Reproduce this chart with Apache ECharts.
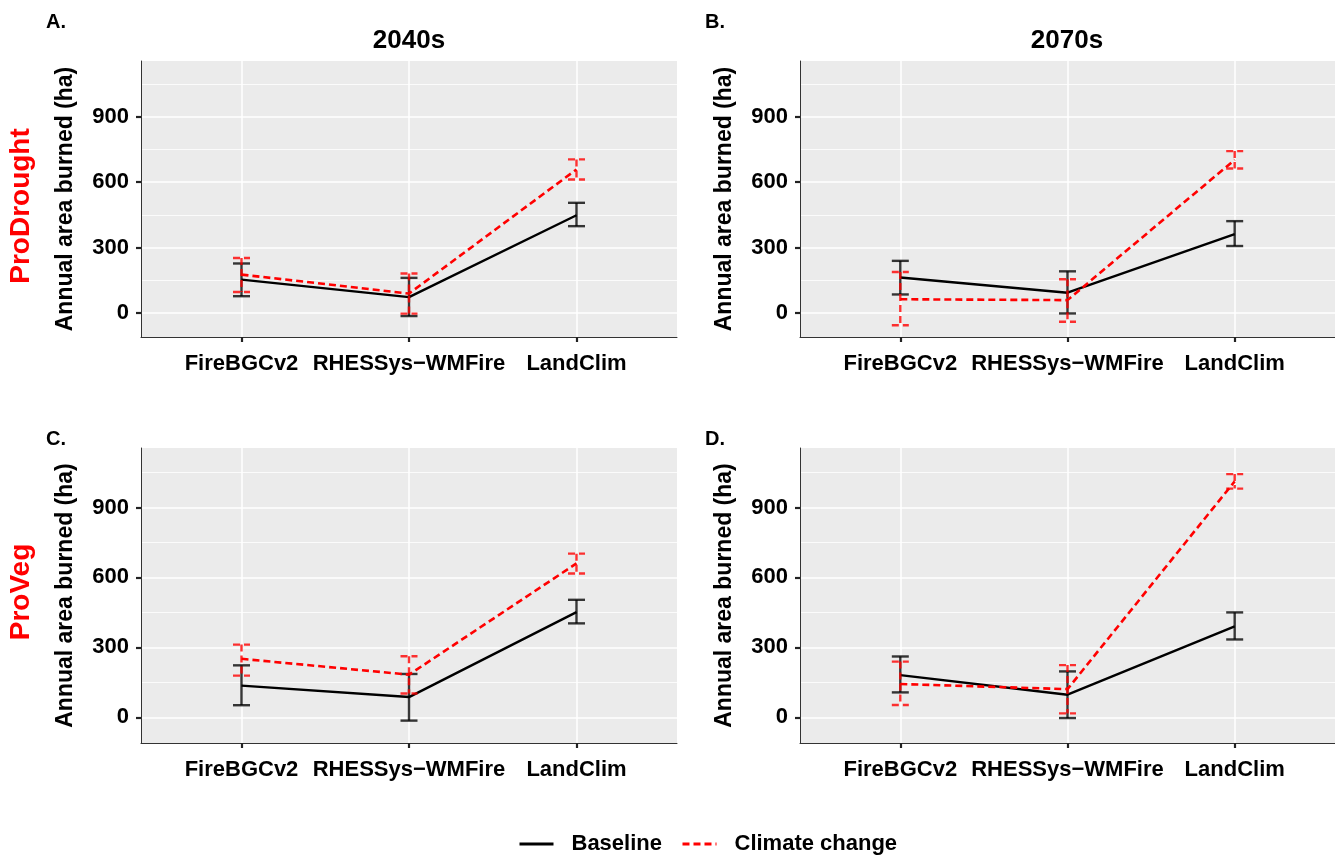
<!DOCTYPE html>
<html lang="en">
<head>
    <meta charset="UTF-8">
    <title>Annual area burned</title>
    <script src="https://cdn.jsdelivr.net/npm/echarts@6/dist/echarts.min.js"></script>
    <style>
        html, body { margin: 0; padding: 0; background: #fff; }
        #main { width: 1335px; height: 857px; }
    </style>
</head>
<body>
    <div id="main"></div>
    <script>
        // models on the x axis
        var categories = ['FireBGCv2', 'RHESSys\u2212WMFire', 'LandClim'];
        var yMajor = [0, 300, 600, 900];
        var yMinor = [150, 450, 750, 1050];

        // A. ProDrought 2040s
        var baseA = [153, 73, 448], baseA_lo = [77, -14, 398], baseA_hi = [227, 161, 505];
        var climA = [176, 89, 658], climA_lo = [96, -3, 612], climA_hi = [252, 181, 704];
        // B. ProDrought 2070s
        var baseB = [163, 93, 361], baseB_lo = [85, -2, 307], baseB_hi = [239, 191, 421];
        var climB = [63, 59, 702], climB_lo = [-56, -40, 662], climB_hi = [188, 155, 742];
        // C. ProVeg 2040s
        var baseC = [136, 87, 451], baseC_lo = [52, -14, 403], baseC_hi = [223, 186, 504];
        var climC = [251, 183, 660], climC_lo = [179, 102, 617], climC_hi = [312, 262, 702];
        // D. ProVeg 2070s
        var baseD = [181, 97, 390], baseD_lo = [107, -3, 334], baseD_hi = [261, 197, 450];
        var climD = [143, 121, 1012], climD_lo = [53, 17, 981], climD_hi = [239, 224, 1043];

        var panels = [
            { base: [baseA, baseA_lo, baseA_hi], clim: [climA, climA_lo, climA_hi] },
            { base: [baseB, baseB_lo, baseB_hi], clim: [climB, climB_lo, climB_hi] },
            { base: [baseC, baseC_lo, baseC_hi], clim: [climC, climC_lo, climC_hi] },
            { base: [baseD, baseD_lo, baseD_hi], clim: [climD, climD_lo, climD_hi] }
        ];

        var FONT = '"Liberation Sans", Arial, Helvetica, sans-serif';
        var grids = [
            { left: 141, top: 61, width: 536, height: 276 },
            { left: 800, top: 61, width: 535, height: 276 },
            { left: 141, top: 448, width: 536, height: 295 },
            { left: 800, top: 448, width: 535, height: 295 }
        ];

        function errorBar(color, dash) {
            return function (params, api) {
                var x = api.value(0);
                var top = api.coord([x, api.value(2)]);
                var bot = api.coord([x, api.value(1)]);
                var hw = 8.5;
                var style = { stroke: color, lineWidth: 2.4, lineDash: dash, fill: null };
                return {
                    type: 'group',
                    children: [
                        { type: 'line', shape: { x1: top[0], y1: top[1], x2: bot[0], y2: bot[1] }, style: style },
                        { type: 'line', shape: { x1: top[0] - hw, y1: top[1], x2: top[0] + hw, y2: top[1] }, style: style },
                        { type: 'line', shape: { x1: bot[0] - hw, y1: bot[1], x2: bot[0] + hw, y2: bot[1] }, style: style }
                    ]
                };
            };
        }

        var xAxes = [], yAxes = [], series = [];
        grids.forEach(function (g, i) {
            g.show = true;
            g.backgroundColor = '#EBEBEB';
            g.borderWidth = 0;
            xAxes.push({
                gridIndex: i, type: 'value', min: 0.4, max: 3.6,
                axisLine: { show: true, onZero: false, lineStyle: { color: '#333', width: 1 } },
                axisTick: { show: true, length: 5, customValues: [1, 2, 3], lineStyle: { color: '#222', width: 2.2 } },
                axisLabel: {
                    customValues: [1, 2, 3], margin: 16,
                    formatter: function (v) { return categories[Math.round(v) - 1]; },
                    fontSize: 22, fontWeight: 'bold', color: '#000', fontFamily: FONT
                },
                splitLine: { show: true, lineStyle: { color: '#fff', width: 1.5 } }
            });
            yAxes.push({
                gridIndex: i, type: 'value', min: -110, max: 1155,
                name: 'Annual area burned (ha)', nameLocation: 'middle', nameGap: 64,
                nameTextStyle: { fontSize: 23, fontWeight: 'bold', color: '#000', fontFamily: FONT },
                axisLine: { show: true, onZero: false, lineStyle: { color: '#333', width: 1 } },
                axisTick: { show: true, length: 5, customValues: yMajor, lineStyle: { color: '#222', width: 2.2 } },
                axisLabel: { customValues: yMajor, margin: 12, fontSize: 22, fontWeight: 'bold', color: '#000', fontFamily: FONT },
                splitLine: { show: true, lineStyle: { color: '#fff', width: 1.5 } }
            });
            // minor grid lines
            yAxes.push({
                gridIndex: i, type: 'value', min: -110, max: 1155, position: 'left',
                axisLine: { show: false },
                axisTick: { show: false, customValues: yMinor },
                axisLabel: { show: false },
                splitLine: { show: true, lineStyle: { color: '#fff', width: 0.8 } }
            });

            var p = panels[i];
            function pts(arr) { return arr[0].map(function (v, k) { return [k + 1, v]; }); }
            function bars(arr) { return arr[1].map(function (v, k) { return [k + 1, v, arr[2][k]]; }); }

            series.push({
                name: 'Baseline', type: 'line', xAxisIndex: i, yAxisIndex: i * 2,
                data: pts(p.base), symbol: 'none', z: 3,
                lineStyle: { color: '#000', width: 2.4, type: 'solid' }, itemStyle: { color: '#000' }
            });
            series.push({
                name: 'Baseline err', type: 'custom', xAxisIndex: i, yAxisIndex: i * 2,
                data: bars(p.base), renderItem: errorBar('rgba(0,0,0,0.78)', null),
                encode: { x: 0, y: [1, 2] }, z: 3, clip: false
            });
            series.push({
                name: 'Climate change', type: 'line', xAxisIndex: i, yAxisIndex: i * 2,
                data: pts(p.clim), symbol: 'none', z: 4,
                lineStyle: { color: '#FF0000', width: 2.6, type: [7, 4] }, itemStyle: { color: '#FF0000' }
            });
            series.push({
                name: 'Climate err', type: 'custom', xAxisIndex: i, yAxisIndex: i * 2,
                data: bars(p.clim), renderItem: errorBar('rgba(255,0,0,0.8)', [7, 4]),
                encode: { x: 0, y: [1, 2] }, z: 4, clip: false
            });
        });

        function txt(s, x, y, size, opts) {
            opts = opts || {};
            return {
                type: 'text', x: x, y: y, rotation: opts.rotation || 0,
                style: {
                    text: s, fill: opts.color || '#000', fontSize: size, fontWeight: 'bold', fontFamily: FONT,
                    align: opts.align || 'left', verticalAlign: 'middle'
                }
            };
        }

        var myChart = echarts.init(document.getElementById('main'));
        var option = {
            animation: false,
            backgroundColor: '#fff',
            grid: grids,
            xAxis: xAxes,
            yAxis: yAxes,
            series: series,
            legend: {
                data: ['Baseline', 'Climate change'],
                left: 518, top: 833, padding: 0,
                itemWidth: 34, itemHeight: 14, itemGap: 19,
                itemStyle: { opacity: 0 },
                lineStyle: { width: 3 },
                textStyle: { fontSize: 22, fontWeight: 'bold', color: '#000', fontFamily: FONT, padding: [0, 0, 0, 13] }
            },
            graphic: [
                txt('A.', 46, 22, 20),
                txt('B.', 705, 22, 20),
                txt('C.', 46, 439, 20),
                txt('D.', 705, 439, 20),
                txt('2040s', 409, 41, 26, { align: 'center' }),
                txt('2070s', 1067, 41, 26, { align: 'center' }),
                txt('ProDrought', 21, 206, 28, { align: 'center', rotation: Math.PI / 2, color: '#FF0000' }),
                txt('ProVeg', 21, 592, 28, { align: 'center', rotation: Math.PI / 2, color: '#FF0000' })
            ]
        };
        myChart.setOption(option);
    </script>
</body>
</html>
